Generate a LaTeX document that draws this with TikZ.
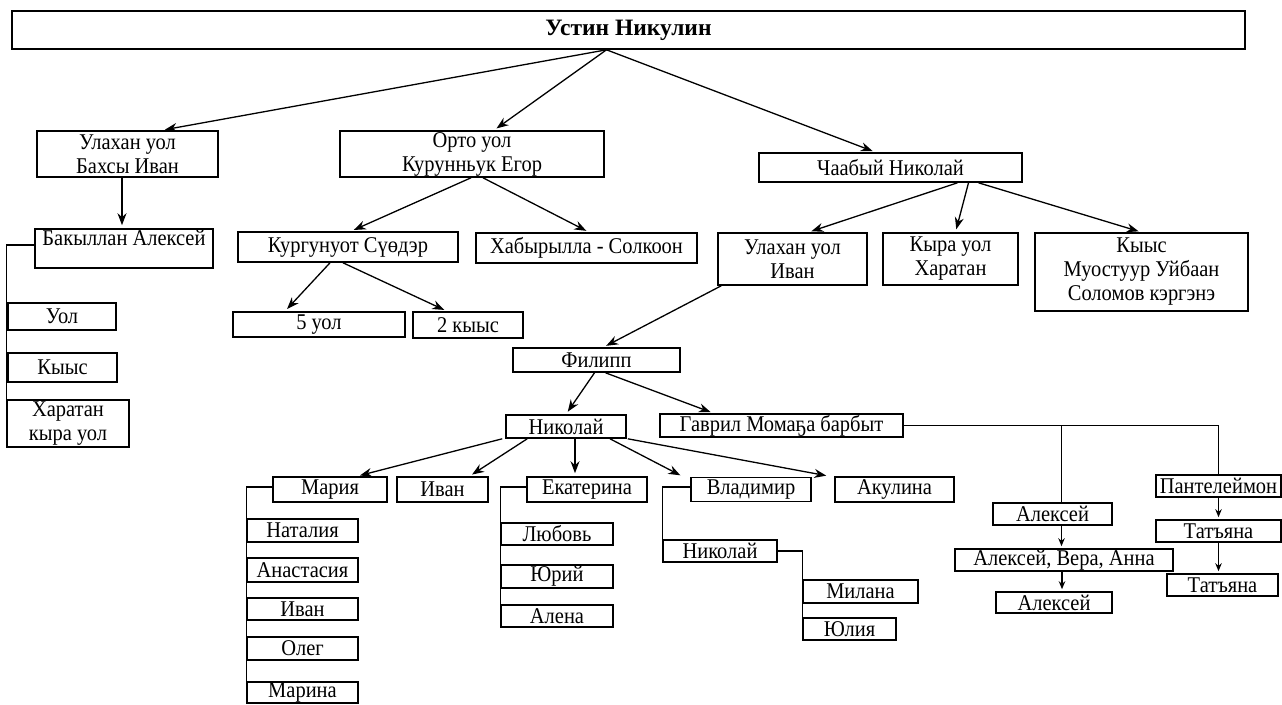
\documentclass[tikz,border=0pt]{standalone}
\usepackage{fontspec}
\setmainfont{Liberation Serif}[FakeStretch=0.91]
\newfontfamily\headfont{Liberation Serif}
\usepackage{tikz}
\usetikzlibrary{calc, arrows.meta}

\begin{document}
\begin{tikzpicture}[x=1pt, y=-1pt,
		box/.style = {draw, line width=1.6pt, inner sep=0pt, align=center, font=\fontsize{22.5}{24}\selectfont},
		arr/.style = {-{Stealth[length=12pt, width=9pt]}, line width=1.3pt, shorten >=3pt},
		small/.style = {-{Stealth[length=8pt, width=6.5pt]}, line width=1.3pt, shorten >=2pt},
		tree/.style = {line width=1.3pt}]
				\useasboundingbox (0,0) rectangle (1282,704);
				
				\node (title) at (628.5,30)[box, minimum width=1233, minimum height=38, font=\headfont\fontsize{23.5}{25}\selectfont\bfseries]{Устин Никулин};
				
				\node (ulakhan) at (127.5,154)[box, minimum width=181, minimum height=46]{Улахан уол\\Бахсы Иван};
				\node (orto) at (472,154)[box, minimum width=264, minimum height=46]{Орто уол\\Курунньук Егор};
				\node (chaabyi) at (890.5,167.5)[box, minimum width=263, minimum height=29]{Чаабый Николай};
				
				\node (bakyllan) at (124,248.5)[box, minimum width=178, text height=16pt, text depth=23pt]{Бакыллан Алексей};
				\node (kurgunuot) at (348,247)[box, minimum width=220, minimum height=30]{Кургунуот Сүөдэр};
				\node (khabyrylla) at (586.5,248)[box, minimum width=221, minimum height=30]{Хабырылла - Солкоон};
				\node (uivan) at (792.5,259)[box, minimum width=149, minimum height=52]{Улахан уол\\Иван};
				\node (kyra) at (950.5,259)[box, minimum width=135, minimum height=52]{Кыра уол\\Харатан};
				\node (kyys) at (1141.5,272)[box, minimum width=213, minimum height=78]{Кыыс\\Муостуур Уйбаан\\Соломов кэргэнэ};
				
				\node (uol) at (62,316.5)[box, minimum width=108, minimum height=27]{Уол};
				\node (kyys2) at (62.5,367.5)[box, minimum width=109, minimum height=29]{Кыыс};
				\node (kharatan) at (68,423.5)[box, minimum width=122, minimum height=47]{Харатан\\кыра уол};
				
				\node (bes) at (319,324.5)[box, minimum width=172, minimum height=25]{5 уол};
				\node (ikki) at (468,325)[box, minimum width=110, minimum height=26]{2 кыыс};
				\node (filipp) at (596.5,360)[box, minimum width=167, minimum height=24]{Филипп};
				\node (nikolai) at (566,426.5)[box, minimum width=120, minimum height=23]{Николай};
				\node (gavril) at (781.5,425.5)[box, minimum width=243, minimum height=23]{Гаврил Момаҕа барбыт};
				
				\node (mariya) at (330,489.5)[box, minimum width=114, minimum height=25]{Мария};
				\node (ivan) at (442.5,489.5)[box, minimum width=91, minimum height=25]{Иван};
				\node (ekaterina) at (587,489.5)[box, minimum width=120, minimum height=25]{Екатерина};
				\node (vladimir) at (751,489.5)[box, minimum width=120, minimum height=24]{Владимир};
				\node (akulina) at (894.5,489.5)[box, minimum width=119, minimum height=25]{Акулина};
				
				\node (nataliya) at (302.5,530.5)[box, minimum width=111, minimum height=23]{Наталия};
				\node (anastasiya) at (302.5,570)[box, minimum width=111, minimum height=24]{Анастасия};
				\node (ivan2) at (302.5,609)[box, minimum width=111, minimum height=22]{Иван};
				\node (oleg) at (302.5,648.5)[box, minimum width=111, minimum height=23]{Олег};
				\node (marina) at (302.5,692.5)[box, minimum width=111, minimum height=21]{Марина};
				
				\node (lyubov) at (557,534)[box, minimum width=112, minimum height=22]{Любовь};
				\node (yurii) at (557,576.5)[box, minimum width=112, minimum height=23]{Юрий};
				\node (alena) at (557,616)[box, minimum width=112, minimum height=22]{Алена};
				
				\node (nikolai2) at (720,551)[box, minimum width=114, minimum height=22]{Николай};
				\node (milana) at (860.5,591.5)[box, minimum width=115, minimum height=23]{Милана};
				\node (yuliya) at (849.5,629)[box, minimum width=93, minimum height=22]{Юлия};
				
				\node (aleksei) at (1052.5,514)[box, minimum width=119, minimum height=22]{Алексей};
				\node (ava) at (1064,560)[box, minimum width=218, minimum height=22]{Алексей, Вера, Анна};
				\node (aleksei2) at (1054,602.5)[box, minimum width=116, minimum height=21]{Алексей};
				\node (panteleimon) at (1218.5,486)[box, minimum width=125, minimum height=22]{Пантелеймон};
				\node (tatyana) at (1218.5,531)[box, minimum width=125, minimum height=22]{Татъяна};
				\node (tatyana2) at (1222.5,585)[box, minimum width=111, minimum height=22]{Татъяна};
				
				\draw[arr] ($(title.south)+(-22,0)$) -- ($(ulakhan.north)+(34.5,0)$);
				\draw[arr] ($(title.south)+(-22,0)$) -- ($(orto.north)+(22,0)$);
				\draw[arr] ($(title.south)+(-22,0)$) -- ($(chaabyi.north)+(-15,0)$);
				\draw[arr] ($(ulakhan.south)+(-5.5,0)$) -- ($(bakyllan.north)+(-2,0)$);
				\draw[arr] ($(orto.south)+(-1,0)$) -- ($(kurgunuot.north)+(3,0)$);
				\draw[arr] ($(orto.south)+(11,0)$) -- ($(khabyrylla.north)+(2.5,0)$);
				\draw[arr] ($(chaabyi.south)+(67,0)$) -- ($(uivan.north)+(16,0)$);
				\draw[arr] ($(chaabyi.south)+(78,0)$) -- ($(kyra.north)+(5,0)$);
				\draw[arr] ($(chaabyi.south)+(88,0)$) -- (kyys.north);
				\draw[arr] ($(kurgunuot.south)+(-18,0)$) -- ($(bes.north)+(-34,0)$);
				\draw[arr] ($(kurgunuot.south)+(-5,0)$) -- ($(ikki.north)+(-21,0)$);
				\draw[arr] ($(uivan.south west)+(4,0)$) -- ($(filipp.north)+(7,0)$);
				\draw[arr] ($(filipp.south)+(-2,0)$) -- (nikolai.north);
				\draw[arr] ($(filipp.south)+(9,0)$) -- ($(gavril.north)+(-68,0)$);
				\draw[arr] ($(nikolai.south west)+(-3,0)$) -- ($(mariya.north)+(27,0)$);
				\draw[arr] ($(nikolai.south west)+(22,0)$) -- ($(ivan.north)+(27,0)$);
				\draw[arr] ($(nikolai.south)+(9,0)$) -- ($(ekaterina.north)+(-12,0)$);
				\draw[arr] ($(nikolai.south)+(44,0)$) -- ($(vladimir.north)+(-68,0)$);
				\draw[arr] ($(nikolai.south east)+(1,0)$) -- ($(akulina.north west)+(-5,0)$);
				
				\draw[tree] ($(bakyllan.west)+(0,-3.5)$) -| (kharatan.south west);
				\draw[tree] ($(mariya.west)+(0,-2.5)$) -| (marina.south west);
				\draw[tree] ($(ekaterina.west)+(0,-2.5)$) -| (alena.south west);
				\draw[tree] ($(vladimir.west)+(0,-2.5)$) -| (nikolai2.south west);
				\draw[tree] (nikolai2.east) -| (yuliya.south west);
				\draw[tree] (gavril.east) -| (panteleimon.north);
				\draw[tree] ($(aleksei.north)+(9,0)$) |- (gavril.east);
				
				\draw[small] ($(aleksei.south)+(9,0)$) -- ($(ava.north)+(-2.5,0)$);
				\draw[small] ($(ava.south)+(-2,0)$) -- ($(aleksei2.north)+(8,0)$);
				\draw[small] (panteleimon.south) -- (tatyana.north);
				\draw[small] (tatyana.south) -- ($(tatyana2.north)+(-4,0)$);
			\end{tikzpicture}
\end{document}
